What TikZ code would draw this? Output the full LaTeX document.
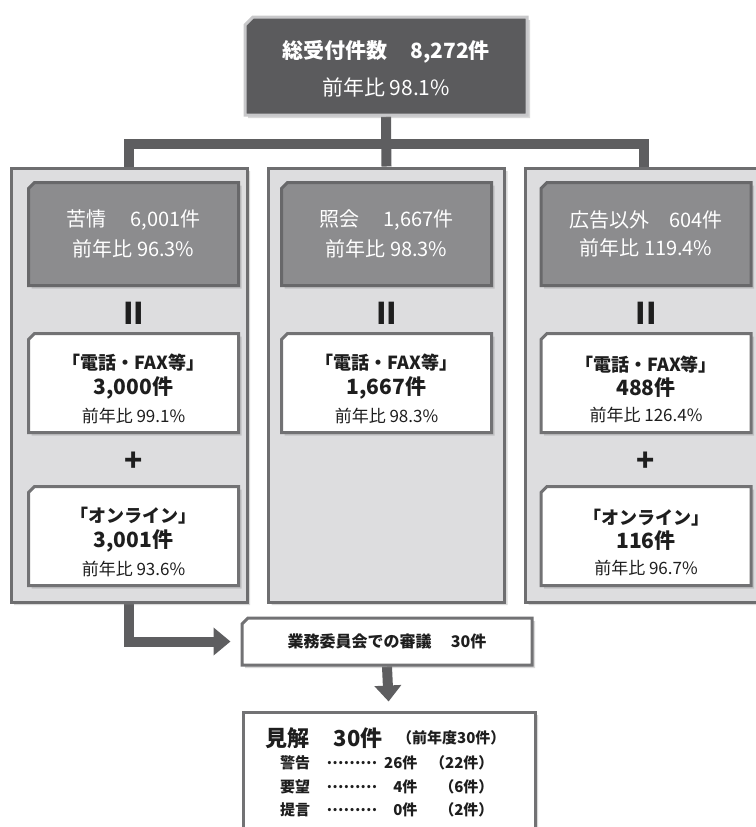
\documentclass[tikz,border=0pt]{standalone}
\usepackage{fontspec}
\setmainfont{Noto Sans CJK JP}
\usetikzlibrary{shapes.misc,arrows.meta,shadows,backgrounds}

\definecolor{barc}{HTML}{5E5E60}
\definecolor{topfill}{HTML}{5B5B5D}
\definecolor{topline}{HTML}{C8C8CA}
\definecolor{colfill}{HTML}{DDDDDF}
\definecolor{colline}{HTML}{6E6E70}
\definecolor{headfill}{HTML}{8C8C8E}
\definecolor{headline}{HTML}{68686A}
\definecolor{boxline}{HTML}{727274}
\definecolor{ink}{HTML}{1E1E1E}

\begin{document}
\begin{tikzpicture}[x=1pt, y=-1pt, >=Triangle]
        \tikzstyle{cham}=[chamfered rectangle, chamfered rectangle corners=north west, inner sep=0pt, line width=3pt]
        \tikzstyle{shade}=[drop shadow={opacity=.3, shadow xshift=3pt, shadow yshift=-3pt}]
        \tikzstyle{total}=[cham, chamfered rectangle sep=4pt, fill=topfill, draw=topline, text=white, minimum width=282pt, minimum height=98pt, align=center, shade]
        \tikzstyle{column}=[cham, chamfered rectangle sep=5pt, fill=colfill, draw=colline, minimum width=236pt, minimum height=434pt, shade]
        \tikzstyle{head}=[cham, chamfered rectangle sep=3pt, fill=headfill, draw=headline, text=white, minimum width=210pt, minimum height=103pt, align=center, shade]
        \tikzstyle{item}=[cham, chamfered rectangle sep=3pt, fill=white, draw=boxline, text=ink, minimum width=210pt, minimum height=99pt, align=center, shade]
        \tikzstyle{review}=[cham, chamfered rectangle sep=3pt, fill=white, draw=boxline, text=ink, minimum width=290pt, minimum height=47pt, shade]
        \tikzstyle{sym}=[text=ink, font=\bfseries\fontsize{30}{30}\selectfont]
        \tikzstyle{row}=[text=ink, font=\bfseries\fontsize{15}{15}\selectfont]
        \tikzstyle{bar}=[line width=10pt, draw=barc]

        \useasboundingbox (0,0) rectangle (755,827);

        % total
        \node[total](total) at (386,66){\bfseries\fontsize{21}{24}\selectfont\rule{0pt}{24pt}総受付件数\hspace{1.1em}8,272件\\[13pt] \fontsize{21}{24}\selectfont 前年比 98.1\%};

        % three columns
        \node[column](colA) at (129,385){};
        \node[column](colB) at (386.5,385){};
        \node[column](colC) at (643.5,385){};

        \node[head](headA) at (133.5,234){\fontsize{20}{22}\selectfont 苦情\hspace{1.2em}6,001件\\[8pt] \fontsize{20}{22}\selectfont 前年比 96.3\%};
        \node[head](headB) at (386.5,234){\fontsize{20}{22}\selectfont 照会\hspace{1.2em}1,667件\\[8pt] \fontsize{20}{22}\selectfont 前年比 98.3\%};
        \node[head](headC) at (646,234){\fontsize{20}{22}\selectfont 広告以外\hspace{1em}604件\\[8pt] \fontsize{20}{22}\selectfont 前年比 119.4\%};

        \node[sym](eqA) at (133.5,313){II};
        \node[sym](eqB) at (386.5,313){II};
        \node[sym](eqC) at (646,313){II};

        \node[item](telA) at (133.5,383){\bfseries\fontsize{18}{22}\selectfont\rule{0pt}{28pt}「電話・FAX等」\\[4pt] \bfseries\fontsize{21}{22}\selectfont 3,000件\\[8pt] \fontsize{17}{20}\selectfont 前年比 99.1\%};
        \node[item](telB) at (386.5,383){\bfseries\fontsize{18}{22}\selectfont\rule{0pt}{28pt}「電話・FAX等」\\[4pt] \bfseries\fontsize{21}{22}\selectfont 1,667件\\[8pt] \fontsize{17}{20}\selectfont 前年比 98.3\%};
        \node[item](telC) at (646,383){\bfseries\fontsize{18}{22}\selectfont\rule{0pt}{28pt}「電話・FAX等」\\[4pt] \bfseries\fontsize{21}{22}\selectfont 488件\\[8pt] \fontsize{17}{20}\selectfont 前年比 126.4\%};

        \node[sym](plusA) at (133.5,462){+};
        \node[sym](plusC) at (646,462){+};

        \node[item](webA) at (133.5,536){\bfseries\fontsize{18}{22}\selectfont\rule{0pt}{28pt}「オンライン」\\[4pt] \bfseries\fontsize{21}{22}\selectfont 3,001件\\[8pt] \fontsize{17}{20}\selectfont 前年比 93.6\%};
        \node[item](webC) at (646,536){\bfseries\fontsize{18}{22}\selectfont\rule{0pt}{28pt}「オンライン」\\[4pt] \bfseries\fontsize{21}{22}\selectfont 116件\\[8pt] \fontsize{17}{20}\selectfont 前年比 96.7\%};

        % review and opinions
        \node[review](rev) at (387,641.5){\bfseries\fontsize{16}{16}\selectfont 業務委員会での審議\hspace{1.2em}30件};
        \node[review, minimum width=292pt, minimum height=200pt](opin) at (389,812){};

        \node[text=ink, anchor=west](optitle) at (262,738){\bfseries\fontsize{22}{22}\selectfont 見解\hspace{1.1em}30件};
        \node[row, anchor=east](optotal) at (509,738){（前年度30件）};
        \node[row](lab1) at (295,763){警告};
        \node[row](lab2) at (295,787){要望};
        \node[row](lab3) at (295,810){提言};
        \node[row](dot1) at (352,763){………};
        \node[row](dot2) at (352,787){………};
        \node[row](dot3) at (352,810){………};
        \node[row, anchor=east](num1) at (421,763){26件};
        \node[row, anchor=east](num2) at (421,787){4件};
        \node[row, anchor=east](num3) at (421,810){0件};
        \node[row, anchor=east](prev1) at (497,763){（22件）};
        \node[row, anchor=east](prev2) at (497,787){（6件）};
        \node[row, anchor=east](prev3) at (497,810){（2件）};

        \begin{scope}[on background layer]
        \draw[bar] (total.south) -- ++(0,27) -| (colA.north);
        \draw[bar] (total.south) -- ++(0,27) -| (colC.north);
        \draw[bar] (total.south) -- (colB.north);
        \draw[bar, -{Triangle[length=17pt, width=27pt]}, shorten >=10pt] (colA.south) |- (rev.west);
        \draw[bar, -{Triangle[length=16pt, width=26pt]}, shorten >=9pt] (rev.south) -- (opin.north);
        \end{scope}

        \end{tikzpicture}
\end{document}
